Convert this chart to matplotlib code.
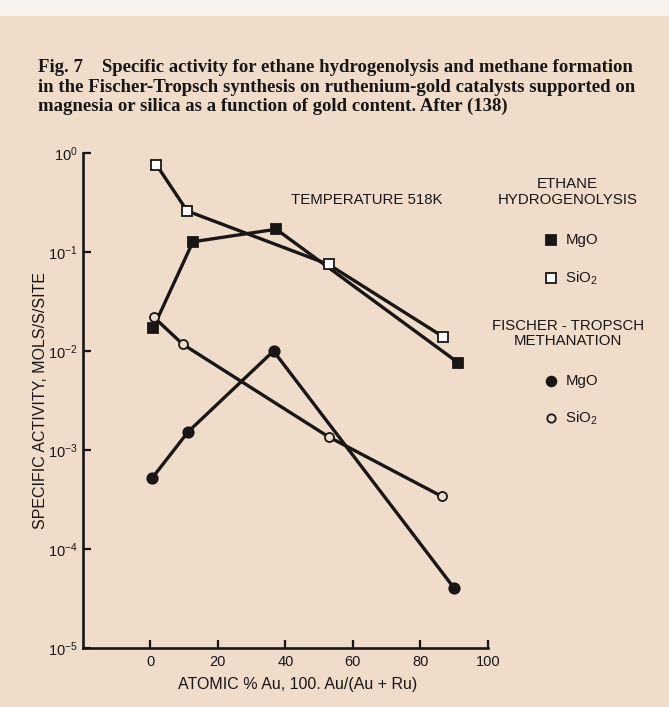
import numpy as np
import matplotlib.pyplot as plt
from matplotlib.patches import Rectangle

# data: x = atomic % Au, y = specific activity (mols/s/site)
eth_mgo_x = [0.8, 12.6, 37.3, 91.3]
eth_mgo_y = [0.017, 0.127, 0.17, 0.0076]

eth_sio2_x = [1.8, 10.9, 52.8, 86.7]
eth_sio2_y = [0.76, 0.26, 0.075, 0.014]

ft_mgo_x = [0.5, 11.2, 36.5, 90.1]
ft_mgo_y = [5.2e-4, 1.53e-3, 0.010, 4.0e-5]

ft_sio2_x = [1.0, 9.6, 52.8, 86.4]
ft_sio2_y = [0.022, 0.0117, 1.36e-3, 3.4e-4]

x_ticks = [0, 20, 40, 60, 80, 100]
y_ticks = [1e0, 1e-1, 1e-2, 1e-3, 1e-4, 1e-5]
y_tick_labels = ["$10^{0}$", "$10^{-1}$", "$10^{-2}$", "$10^{-3}$", "$10^{-4}$", "$10^{-5}$"]

BG = "#efdccb"
INK = "#1a1616"
FS = 10.8

plt.rcParams["font.family"] = ["Liberation Sans", "DejaVu Sans"]
plt.rcParams["mathtext.default"] = "regular"

fig = plt.figure(figsize=(6.69, 7.07), dpi=100)
fig.patch.set_facecolor(BG)
# pale strip at the top of the scanned page
fig.patches.append(Rectangle((0, 0.978), 1, 0.022, transform=fig.transFigure,
                             facecolor="#f7f2ee", edgecolor="none"))

# caption
caption = ("Fig. 7    Specific activity for ethane hydrogenolysis and methane formation\n"
           "in the Fischer-Tropsch synthesis on ruthenium-gold catalysts supported on\n"
           "magnesia or silica as a function of gold content. After (138)")
fig.text(0.057, 0.916, caption, ha="left", va="top", fontsize=13.5,
         fontweight="bold", family="Liberation Serif", color=INK,
         linespacing=1.17)

ax = fig.add_axes([0.124, 0.0835, 0.605, 0.700])
ax.set_facecolor(BG)
ax.set_yscale("log")
ax.set_xlim(-20, 100)
ax.set_ylim(1e-5, 1e0)

line_kw = dict(color=INK, lw=2.4, markeredgewidth=1.3, clip_on=False)
ax.plot(eth_mgo_x, eth_mgo_y, marker="s", ms=7.5, mfc=INK, mec=INK, **line_kw)
ax.plot(eth_sio2_x, eth_sio2_y, marker="s", ms=7.5, mfc="white", mec=INK, **line_kw)
ax.plot(ft_mgo_x, ft_mgo_y, marker="o", ms=7.5, mfc=INK, mec=INK, **line_kw)
ax.plot(ft_sio2_x, ft_sio2_y, marker="o", ms=6.5, mfc=BG, mec=INK, **line_kw)

for s in ["top", "right"]:
    ax.spines[s].set_visible(False)
for s in ["left", "bottom"]:
    ax.spines[s].set_linewidth(1.9)
    ax.spines[s].set_color(INK)

ax.set_xticks(x_ticks)
ax.set_yticks(y_ticks)
ax.set_yticklabels(y_tick_labels)
ax.yaxis.set_minor_locator(plt.NullLocator())
ax.tick_params(direction="in", length=6, width=1.6, colors=INK, labelsize=10.5)
ax.tick_params(axis="y", pad=4)
ax.tick_params(axis="x", pad=5)

ax.set_xlabel("ATOMIC % Au, 100. Au/(Au + Ru)", fontsize=11.5, color=INK, labelpad=6)
ax.set_ylabel("SPECIFIC ACTIVITY, MOLS/S/SITE", fontsize=11.5, color=INK, labelpad=0)
ax.xaxis.set_label_coords(0.53, -0.058)

fig.text(0.548, 0.717, "TEMPERATURE 518K", ha="center", va="center", fontsize=FS, color=INK)

# legend drawn as free text next to the plot
leg_x = 0.823
fig.text(0.848, 0.728, "ETHANE\nHYDROGENOLYSIS", ha="center", va="center",
         fontsize=FS, color=INK, linespacing=1.15)
fig.text(0.849, 0.528, "FISCHER - TROPSCH\nMETHANATION", ha="center", va="center",
         fontsize=FS, color=INK, linespacing=1.1)
entries = [(0.660, "s", INK, "MgO"),
           (0.607, "s", "white", "SiO$_2$"),
           (0.461, "o", INK, "MgO"),
           (0.409, "o", BG, "SiO$_2$")]
for ypos, mk, fc, lab in entries:
    fig.lines.append(plt.Line2D([leg_x], [ypos], transform=fig.transFigure,
                                marker=mk, ms=7 if fc != BG else 6, mfc=fc,
                                mec=INK, mew=1.3, ls="none"))
    fig.text(leg_x + 0.022, ypos, lab, ha="left", va="center", fontsize=FS, color=INK)

fig.savefig("out.png", dpi=100, facecolor=BG)
